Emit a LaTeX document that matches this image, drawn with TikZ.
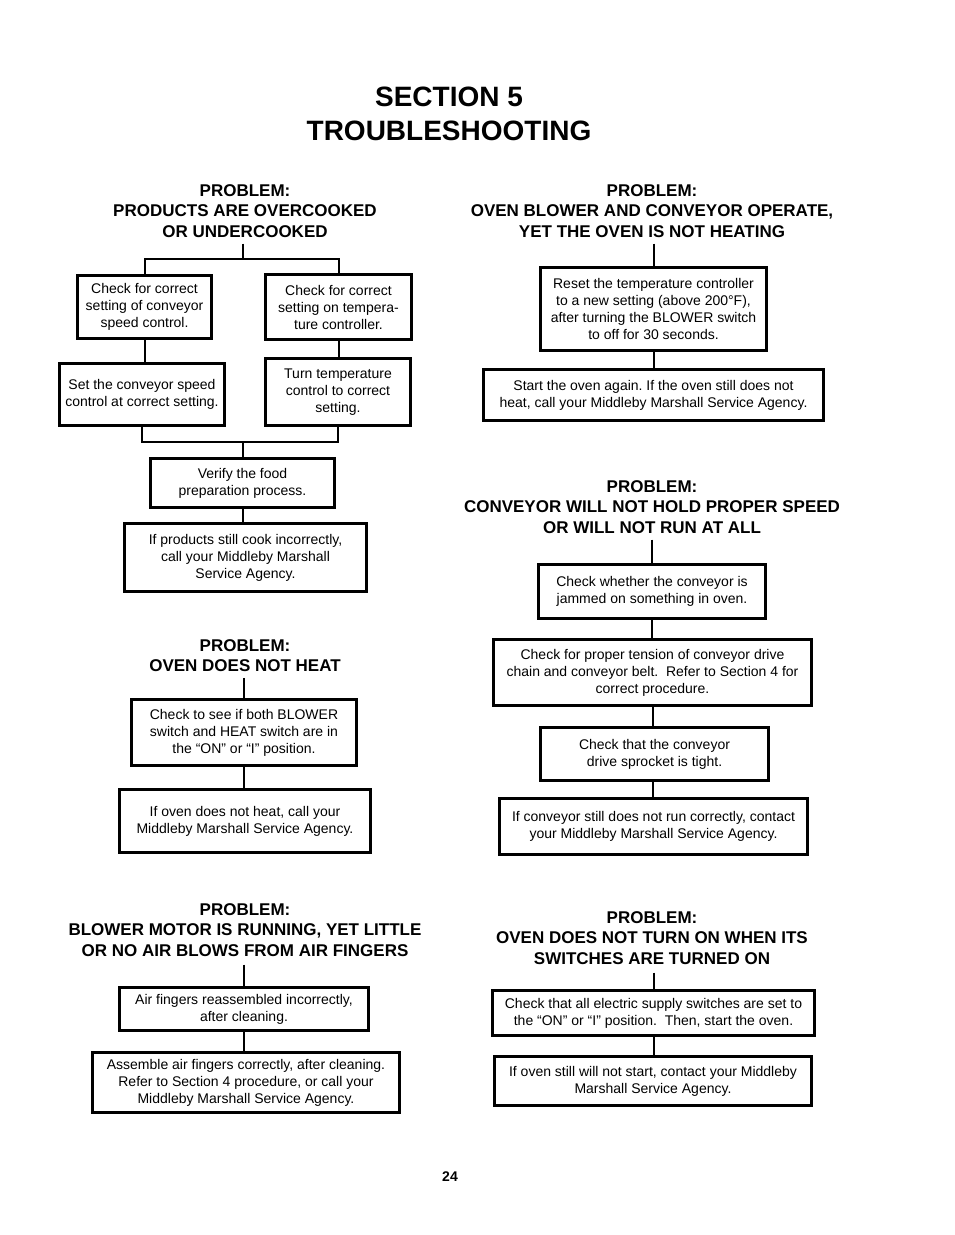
\documentclass[tikz,border=0pt]{standalone}
\usepackage{fontspec}
\setmainfont{Liberation Sans}
\frenchspacing
\begin{document}
\begin{tikzpicture}[x=1pt,y=-1pt,
  box/.style={draw,line width=3pt,align=center,inner sep=0pt,font=\fontsize{14}{17}\selectfont},
  head/.style={align=center,inner sep=0pt,font=\bfseries\fontsize{17}{20.5}\selectfont},
  conn/.style={line width=2pt},
  ttl/.style={align=center,inner sep=0pt,font=\bfseries\fontsize{28}{34}\selectfont}]
\useasboundingbox (0,0) rectangle (954,1235);

\node[ttl] (title) at (449,114) {SECTION 5\\TROUBLESHOOTING};

% ---------- Problem 1 ----------
\node[head] (h1) at (245,211) {PROBLEM:\\PRODUCTS ARE OVERCOOKED\\OR UNDERCOOKED};
\node[box,minimum width=134pt,minimum height=63pt] (a1) at (144.5,307) {Check for correct\\setting of conveyor\\speed control.};
\node[box,minimum width=146pt,minimum height=65pt] (b1) at (338.5,307) {Check for correct\\setting on tempera-\\ture controller.};
\node[box,minimum width=165pt,minimum height=62pt] (a2) at (142,394.5) {Set the conveyor speed\\control at correct setting.};
\node[box,minimum width=145pt,minimum height=67pt] (b2) at (338,392) {Turn temperature\\control to correct\\setting.};
\node[box,minimum width=184pt,minimum height=49pt] (v1) at (242.5,483) {Verify the food\\preparation process.};
\node[box,minimum width=242pt,minimum height=68pt] (p1) at (245.5,557.5) {If products still cook incorrectly,\\call your Middleby Marshall\\Service Agency.};
\coordinate (j1) at (243,259);
\coordinate (j2) at (243,442);
\draw[conn] ([yshift=-6pt]h1.south -| j1) -- (j1);
\draw[conn] (a1.north) -- (a1.north |- j1) -- (b1.north |- j1) -- (b1.north);
\draw[conn] (a1.south) -- (a1.south |- a2.north);
\draw[conn] (b1.south) -- (b1.south |- b2.north);
\draw[conn] (a2.south) -- (a2.south |- j2) -- (b2.south |- j2) -- (b2.south);
\draw[conn] (j2) -- (j2 |- v1.north);
\draw[conn] (v1.south) -- (v1.south |- p1.north);

% ---------- Problem 2 ----------
\node[head] (h2) at (245,655.5) {PROBLEM:\\OVEN DOES NOT HEAT};
\node[box,minimum width=225pt,minimum height=66pt] (c1) at (244,732.5) {Check to see if both BLOWER\\switch and HEAT switch are in\\the “ON” or “I” position.};
\node[box,minimum width=251pt,minimum height=63pt] (c2) at (245,821) {If oven does not heat, call your\\Middleby Marshall Service Agency.};
\draw[conn] ([yshift=-6pt]h2.south -| c1.north) -- (c1.north);
\draw[conn] (c1.south) -- (c1.south |- c2.north);

% ---------- Problem 3 ----------
\node[head] (h3) at (245,930) {PROBLEM:\\BLOWER MOTOR IS RUNNING, YET LITTLE\\OR NO AIR BLOWS FROM AIR FINGERS};
\node[box,minimum width=249pt,minimum height=43pt] (d1) at (244,1009) {Air fingers reassembled incorrectly,\\after cleaning.};
\node[box,minimum width=307pt,minimum height=60pt] (d2) at (246,1082.5) {Assemble air fingers correctly, after cleaning.\\Refer to Section 4 procedure, or call your\\Middleby Marshall Service Agency.};
\draw[conn] ([yshift=-8pt]h3.south -| d1.north) -- (d1.north);
\draw[conn] (d1.south) -- (d1.south |- d2.north);

% ---------- Problem 4 ----------
\node[head] (h4) at (652,211) {PROBLEM:\\OVEN BLOWER AND CONVEYOR OPERATE,\\YET THE OVEN IS NOT HEATING};
\node[box,minimum width=226pt,minimum height=83pt] (e1) at (653.5,309) {Reset the temperature controller\\to a new setting (above 200°F),\\after turning the BLOWER switch\\to off for 30 seconds.};
\node[box,minimum width=340pt,minimum height=51pt] (e2) at (653.5,395) {Start the oven again. If the oven still does not\\heat, call your Middleby Marshall Service Agency.};
\draw[conn] ([yshift=-6pt]h4.south -| e1.north) -- (e1.north);
\draw[conn] (e1.south) -- (e1.south |- e2.north);

% ---------- Problem 5 ----------
\node[head] (h5) at (652,507) {PROBLEM:\\CONVEYOR WILL NOT HOLD PROPER SPEED\\OR WILL NOT RUN AT ALL};
\node[box,minimum width=227pt,minimum height=54pt] (f1) at (652,591.5) {Check whether the conveyor is\\jammed on something in oven.};
\node[box,minimum width=318pt,minimum height=66pt] (f2) at (652.5,672.5) {Check for proper tension of conveyor drive\\chain and conveyor belt.\ \ Refer to Section 4 for\\correct procedure.};
\node[box,minimum width=228pt,minimum height=53pt] (f3) at (654.5,754) {Check that the conveyor\\drive sprocket is tight.};
\node[box,minimum width=308pt,minimum height=56pt] (f4) at (653.5,826.5) {If conveyor still does not run correctly, contact\\your Middleby Marshall Service Agency.};
\draw[conn] ([yshift=-6pt]h5.south -| f1.north) -- (f1.north);
\draw[conn] (f1.south) -- (f1.south |- f2.north);
\draw[conn] (f2.south) -- (f2.south |- f3.north);
\draw[conn] (f2.south |- f3.south) -- (f2.south |- f4.north);

% ---------- Problem 6 ----------
\node[head] (h6) at (652,938) {PROBLEM:\\OVEN DOES NOT TURN ON WHEN ITS\\SWITCHES ARE TURNED ON};
\node[box,minimum width=322pt,minimum height=45pt] (g1) at (653.5,1013) {Check that all electric supply switches are set to\\the “ON” or “I” position.\ \ Then, start the oven.};
\node[box,minimum width=317pt,minimum height=49pt] (g2) at (653,1081) {If oven still will not start, contact your Middleby\\Marshall Service Agency.};
\draw[conn] ([yshift=-8pt]h6.south -| g1.north) -- (g1.north);
\draw[conn] (g1.south) -- (g1.south |- g2.north);

\node[inner sep=0pt,font=\bfseries\fontsize{14}{17}\selectfont] (pg) at (450,1177) {24};
\end{tikzpicture}
\end{document}
